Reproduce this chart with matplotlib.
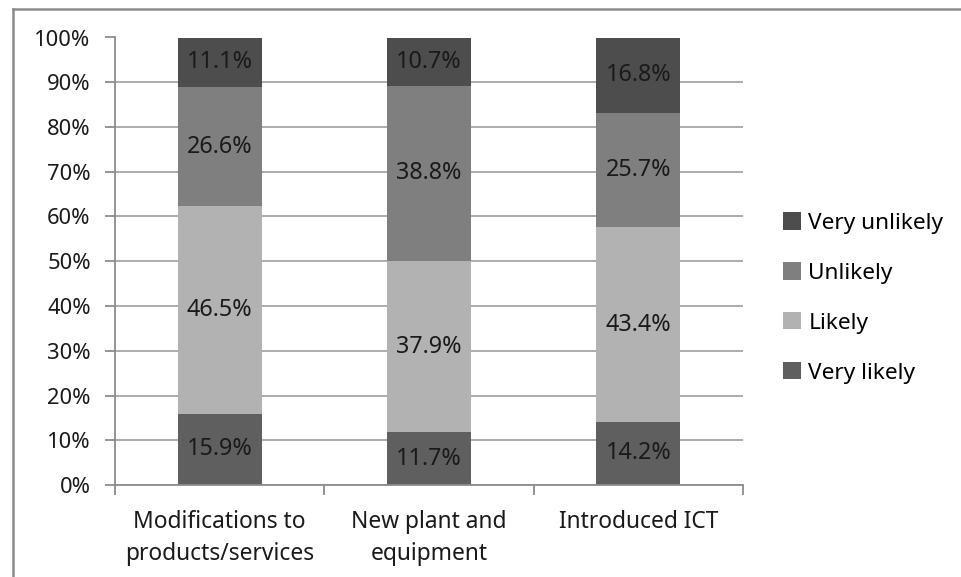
import numpy as np
import matplotlib.pyplot as plt
from matplotlib.lines import Line2D

plt.rcParams['font.family'] = ['Noto Sans', 'DejaVu Sans']

categories = ['Modifications to\nproducts/services', 'New plant and\nequipment', 'Introduced ICT']
series = ['Very likely', 'Likely', 'Unlikely', 'Very unlikely']
very_likely = [15.9, 11.7, 14.2]
likely = [46.5, 37.9, 43.4]
unlikely = [26.6, 38.8, 25.7]
very_unlikely = [11.1, 10.7, 16.8]
colors = ['#5f5f5f', '#b2b2b2', '#7f7f7f', '#4d4d4d']

values = np.array([very_likely, likely, unlikely, very_unlikely])
# each column is scaled to 100% like a 100% stacked bar
shares = values / values.sum(axis=0) * 100

fig = plt.figure(figsize=(9.62, 5.77), dpi=100)
ax = fig.add_axes([115/962, 1 - 485/577, 628/962, 447.5/577])

# frame around the chart area, running off the right and bottom edges
fx, fy = 13/962, 1 - 9/577
fig.add_artist(Line2D([fx, fx], [-0.1, fy], transform=fig.transFigure,
                      color='#8c8c8c', linewidth=1.8))
fig.add_artist(Line2D([fx, 1.1], [fy, fy], transform=fig.transFigure,
                      color='#8c8c8c', linewidth=1.8))
fig.text(0.005, 1.025, 'Support', fontsize=16, style='italic',
         fontweight='bold', va='baseline', ha='left')

x = np.arange(len(categories))
bottom = np.zeros(len(categories))
bars = []
for name, vals, share, col in zip(series, values, shares, colors):
    b = ax.bar(x, share, 0.4, bottom=bottom, color=col, label=name, zorder=2)
    bars.append(b)
    for xi, bt, sh, v in zip(x, bottom, share, vals):
        ax.text(xi, bt + sh / 2, '%.1f%%' % v, ha='center', va='center',
                fontsize=16.8, color='#1a1a1a', zorder=3)
    bottom += share

ax.set_xlim(-0.5, 2.5)
ax.set_ylim(0, 100)
ax.set_yticks(np.arange(0, 101, 10))
ax.set_yticklabels(['%d%%' % v for v in range(0, 101, 10)])
ax.yaxis.grid(True, color='#a6a6a6', linewidth=1.3, zorder=0)
ax.set_axisbelow(True)

ax.set_xticks(x)
ax.set_xticklabels(categories, linespacing=1.45)
ax.set_xticks([-0.5, 0.5, 1.5, 2.5], minor=True)
ax.tick_params(axis='x', which='major', length=0, pad=18, labelsize=16.4,
               colors='#1a1a1a')
ax.tick_params(axis='x', which='minor', length=7, width=1.3, color='#8c8c8c')
ax.tick_params(axis='y', length=7.5, width=1.3, color='#8c8c8c', labelsize=15.8,
               labelcolor='#1a1a1a', pad=10)

for s in ['top', 'right']:
    ax.spines[s].set_visible(False)
for s in ['left', 'bottom']:
    ax.spines[s].set_color('#8c8c8c')
    ax.spines[s].set_linewidth(1.3)

handles = bars[::-1]
fig.legend(handles, [h.get_label() for h in handles], loc='center left',
           bbox_to_anchor=(763/962, 1 - 298/577), frameon=False,
           fontsize=16.3, handlelength=0.8, handleheight=0.8,
           handletextpad=0.3, labelspacing=1.25)

fig.savefig('out.png', dpi=100)
